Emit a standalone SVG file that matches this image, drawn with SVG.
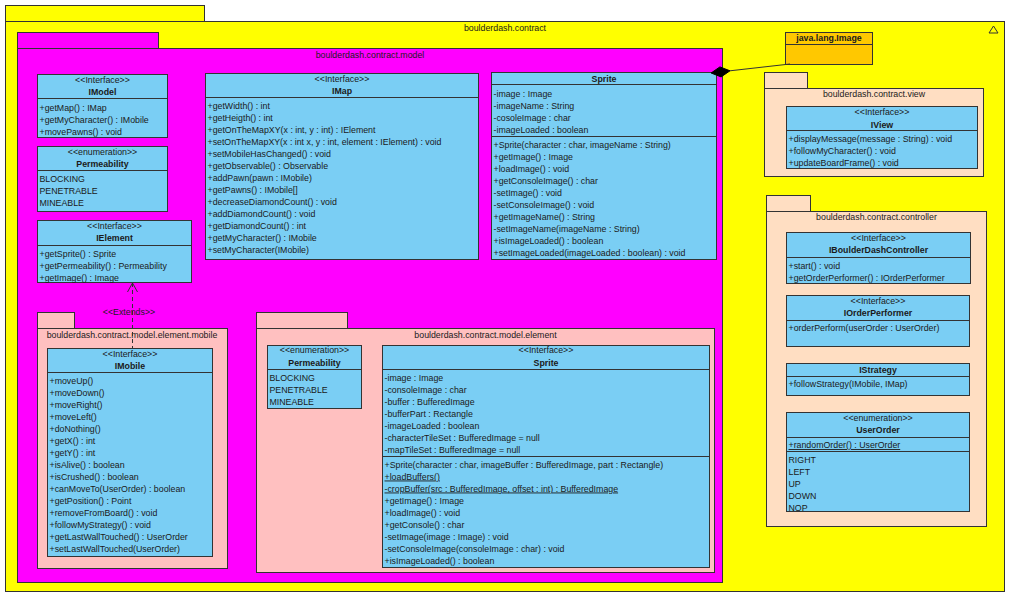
<svg xmlns="http://www.w3.org/2000/svg" width="1016" height="599" viewBox="0 0 1016 599">
<style>
text { font-family: "Liberation Sans", Arial, sans-serif; font-size: 8.8px; fill: #1a1a1a; }
.c { text-anchor: middle; }
.b { font-weight: bold; }
.u { text-decoration: underline; }
.cls { fill: #7ACEF4; stroke: #333333; stroke-width: 1; }
.ext { fill: #FFC800; stroke: #333333; stroke-width: 1; }
.ln { stroke: #333333; stroke-width: 1; fill: none; }
.py { fill: #FFFF00; stroke: #333333; stroke-width: 1; }
.pm { fill: #FF00FF; stroke: #333333; stroke-width: 1; }
.pp { fill: #FFC0C0; stroke: #333333; stroke-width: 1; }
.pc { fill: #FFDEC2; stroke: #333333; stroke-width: 1; }
</style>
<defs>
<clipPath id="clipUO"><rect x="786.5" y="451.5" width="183" height="59.5"/></clipPath>
</defs>
<rect x="0" y="0" width="1016" height="599" fill="#FFFFFF"/>

<g id="pkg-contract">
<rect class="py" x="5.5" y="5.5" width="199" height="16"/>
<rect class="py" x="5.5" y="21.5" width="999" height="570"/>
<text class="c" x="505" y="30.5">boulderdash.contract</text>
<polygon class="ln" points="989,33 998,33 993.5,26"/>
</g>

<g id="pkg-model">
<rect class="pm" x="17.5" y="32.5" width="141" height="16"/>
<rect class="pm" x="17.5" y="48.5" width="705" height="534"/>
<text class="c" x="370" y="57.5">boulderdash.contract.model</text>
</g>

<g id="pkg-view">
<rect class="pc" x="764.5" y="72.5" width="43" height="16"/>
<rect class="pc" x="764.5" y="88.5" width="219" height="88"/>
<text class="c" x="874" y="97">boulderdash.contract.view</text>
</g>

<g id="pkg-controller">
<rect class="pc" x="766.5" y="195.5" width="44" height="16"/>
<rect class="pc" x="766.5" y="211.5" width="220" height="315"/>
<text class="c" x="876.5" y="220">boulderdash.contract.controller</text>
</g>

<g id="pkg-mobile">
<rect class="pp" x="37.5" y="312.5" width="37" height="16"/>
<rect class="pp" x="37.5" y="328.5" width="190" height="240"/>
<text class="c" x="132" y="337.5">boulderdash.contract.model.element.mobile</text>
</g>

<g id="pkg-element">
<rect class="pp" x="256.5" y="312.5" width="91" height="16"/>
<rect class="pp" x="256.5" y="328.5" width="458" height="244"/>
<text class="c" x="485.5" y="337.5">boulderdash.contract.model.element</text>
</g>

<g id="IModel">
<rect class="cls" x="37.5" y="74.5" width="130" height="63"/>
<line class="ln" x1="37.5" y1="98.5" x2="167.5" y2="98.5"/>
<text class="c" x="102.5" y="83">&lt;&lt;Interface&gt;&gt;</text>
<text class="c b" x="102.5" y="95">IModel</text>
<text x="39.5" y="110.5">+getMap() : IMap</text>
<text x="39.5" y="122.5">+getMyCharacter() : IMobile</text>
<text x="39.5" y="134.5">+movePawns() : void</text>
</g>

<g id="Permeability-model">
<rect class="cls" x="37.5" y="146.5" width="130" height="65"/>
<line class="ln" x1="37.5" y1="170.5" x2="167.5" y2="170.5"/>
<text class="c" x="102.5" y="155">&lt;&lt;enumeration&gt;&gt;</text>
<text class="c b" x="102.5" y="167">Permeability</text>
<text x="39.5" y="182">BLOCKING</text>
<text x="39.5" y="194">PENETRABLE</text>
<text x="39.5" y="206">MINEABLE</text>
</g>

<g id="IElement">
<rect class="cls" x="37.5" y="220.5" width="154" height="62"/>
<line class="ln" x1="37.5" y1="245.5" x2="191.5" y2="245.5"/>
<text class="c" x="114.5" y="229">&lt;&lt;Interface&gt;&gt;</text>
<text class="c b" x="114.5" y="241">IElement</text>
<text x="39.5" y="256.5">+getSprite() : Sprite</text>
<text x="39.5" y="268.5">+getPermeability() : Permeability</text>
<text x="39.5" y="280.5">+getImage() : Image</text>
</g>

<g id="IMap">
<rect class="cls" x="205.5" y="73.5" width="273" height="186"/>
<line class="ln" x1="205.5" y1="97.5" x2="478.5" y2="97.5"/>
<text class="c" x="342" y="82">&lt;&lt;Interface&gt;&gt;</text>
<text class="c b" x="342" y="94">IMap</text>
<text x="207.5" y="109">+getWidth() : int</text>
<text x="207.5" y="121">+getHeigth() : int</text>
<text x="207.5" y="133">+getOnTheMapXY(x : int, y : int) : IElement</text>
<text x="207.5" y="145">+setOnTheMapXY(x : int x, y : int, element : IElement) : void</text>
<text x="207.5" y="157">+setMobileHasChanged() : void</text>
<text x="207.5" y="169">+getObservable() : Observable</text>
<text x="207.5" y="181">+addPawn(pawn : IMobile)</text>
<text x="207.5" y="193">+getPawns() : IMobile[]</text>
<text x="207.5" y="205">+decreaseDiamondCount() : void</text>
<text x="207.5" y="217">+addDiamondCount() : void</text>
<text x="207.5" y="229">+getDiamondCount() : int</text>
<text x="207.5" y="241">+getMyCharacter() : IMobile</text>
<text x="207.5" y="253">+setMyCharacter(IMobile)</text>
</g>

<g id="Sprite-model">
<rect class="cls" x="491.5" y="72.5" width="225" height="187"/>
<line class="ln" x1="491.5" y1="84.5" x2="716.5" y2="84.5"/>
<line class="ln" x1="491.5" y1="136.5" x2="716.5" y2="136.5"/>
<text class="c b" x="604" y="81.5">Sprite</text>
<text x="493.5" y="96.5">-image : Image</text>
<text x="493.5" y="108.5">-imageName : String</text>
<text x="493.5" y="120.5">-cosoleImage : char</text>
<text x="493.5" y="132.5">-imageLoaded : boolean</text>
<text x="493.5" y="147.5">+Sprite(character : char, imageName : String)</text>
<text x="493.5" y="159.5">+getImage() : Image</text>
<text x="493.5" y="171.5">+loadImage() : void</text>
<text x="493.5" y="183.5">+getConsoleImage() : char</text>
<text x="493.5" y="195.5">-setImage() : void</text>
<text x="493.5" y="207.5">-setConsoleImage() : void</text>
<text x="493.5" y="219.5">+getImageName() : String</text>
<text x="493.5" y="231.5">-setImageName(imageName : String)</text>
<text x="493.5" y="243.5">+isImageLoaded() : boolean</text>
<text x="493.5" y="255.5">+setImageLoaded(imageLoaded : boolean) : void</text>
</g>

<g id="java-lang-Image">
<rect class="ext" x="785.5" y="32.5" width="87" height="32"/>
<line class="ln" x1="785.5" y1="44.5" x2="872.5" y2="44.5"/>
<text class="c b" x="829" y="41">java.lang.Image</text>
</g>

<g id="IView">
<rect class="cls" x="786.5" y="106.5" width="191" height="62"/>
<line class="ln" x1="786.5" y1="130.5" x2="977.5" y2="130.5"/>
<text class="c" x="882" y="115">&lt;&lt;Interface&gt;&gt;</text>
<text class="c b" x="882" y="127.5">IView</text>
<text x="788.5" y="142">+displayMessage(message : String) : void</text>
<text x="788.5" y="154">+followMyCharacter() : void</text>
<text x="788.5" y="166">+updateBoardFrame() : void</text>
</g>

<g id="IBoulderDashController">
<rect class="cls" x="786.5" y="232.5" width="184" height="51"/>
<line class="ln" x1="786.5" y1="257.5" x2="970.5" y2="257.5"/>
<text class="c" x="878.5" y="241">&lt;&lt;Interface&gt;&gt;</text>
<text class="c b" x="878.5" y="253">IBoulderDashController</text>
<text x="788.5" y="268.5">+start() : void</text>
<text x="788.5" y="280.5">+getOrderPerformer() : IOrderPerformer</text>
</g>

<g id="IOrderPerformer">
<rect class="cls" x="786.5" y="295.5" width="183" height="51"/>
<line class="ln" x1="786.5" y1="320.5" x2="969.5" y2="320.5"/>
<text class="c" x="878" y="304">&lt;&lt;Interface&gt;&gt;</text>
<text class="c b" x="878" y="316">IOrderPerformer</text>
<text x="788.5" y="331">+orderPerform(userOrder : UserOrder)</text>
</g>

<g id="IStrategy">
<rect class="cls" x="786.5" y="363.5" width="183" height="32"/>
<line class="ln" x1="786.5" y1="376.5" x2="969.5" y2="376.5"/>
<text class="c b" x="878" y="372.5">IStrategy</text>
<text x="788.5" y="387">+followStrategy(IMobile, IMap)</text>
</g>

<g id="UserOrder">
<rect class="cls" x="786.5" y="412.5" width="183" height="99"/>
<line class="ln" x1="786.5" y1="437.5" x2="969.5" y2="437.5"/>
<line class="ln" x1="786.5" y1="451.5" x2="969.5" y2="451.5"/>
<text class="c" x="878" y="421">&lt;&lt;enumeration&gt;&gt;</text>
<text class="c b" x="878" y="433">UserOrder</text>
<text class="u" x="788.5" y="448">+randomOrder() : UserOrder</text>
<g clip-path="url(#clipUO)">
<text x="788.5" y="462.5">RIGHT</text>
<text x="788.5" y="474.5">LEFT</text>
<text x="788.5" y="486.5">UP</text>
<text x="788.5" y="498.5">DOWN</text>
<text x="788.5" y="510.5">NOP</text>
</g>
</g>

<g id="IMobile">
<rect class="cls" x="47.5" y="348.5" width="165" height="208"/>
<line class="ln" x1="47.5" y1="372.5" x2="212.5" y2="372.5"/>
<text class="c" x="130" y="357">&lt;&lt;Interface&gt;&gt;</text>
<text class="c b" x="130" y="369">IMobile</text>
<text x="49.5" y="383.5">+moveUp()</text>
<text x="49.5" y="395.5">+moveDown()</text>
<text x="49.5" y="407.5">+moveRight()</text>
<text x="49.5" y="419.5">+moveLeft()</text>
<text x="49.5" y="431.5">+doNothing()</text>
<text x="49.5" y="443.5">+getX() : int</text>
<text x="49.5" y="455.5">+getY() : int</text>
<text x="49.5" y="467.5">+isAlive() : boolean</text>
<text x="49.5" y="479.5">+isCrushed() : boolean</text>
<text x="49.5" y="491.5">+canMoveTo(UserOrder) : boolean</text>
<text x="49.5" y="503.5">+getPosition() : Point</text>
<text x="49.5" y="515.5">+removeFromBoard() : void</text>
<text x="49.5" y="527.5">+followMyStrategy() : void</text>
<text x="49.5" y="539.5">+getLastWallTouched() : UserOrder</text>
<text x="49.5" y="551.5">+setLastWallTouched(UserOrder)</text>
</g>

<g id="Permeability-element">
<rect class="cls" x="267.5" y="345.5" width="94" height="63"/>
<line class="ln" x1="267.5" y1="369.5" x2="361.5" y2="369.5"/>
<text class="c" x="314.5" y="352.5">&lt;&lt;enumeration&gt;&gt;</text>
<text class="c b" x="314.5" y="365.5">Permeability</text>
<text x="269.5" y="380.5">BLOCKING</text>
<text x="269.5" y="392.5">PENETRABLE</text>
<text x="269.5" y="404.5">MINEABLE</text>
</g>

<g id="Sprite-element">
<rect class="cls" x="382.5" y="345.5" width="327" height="222"/>
<line class="ln" x1="382.5" y1="369.5" x2="709.5" y2="369.5"/>
<line class="ln" x1="382.5" y1="456.5" x2="709.5" y2="456.5"/>
<text class="c" x="546" y="352.5">&lt;&lt;Interface&gt;&gt;</text>
<text class="c b" x="546" y="365.5">Sprite</text>
<text x="384.5" y="380.5">-image : Image</text>
<text x="384.5" y="392.5">-consoleImage : char</text>
<text x="384.5" y="404.5">-buffer : BufferedImage</text>
<text x="384.5" y="416.5">-bufferPart : Rectangle</text>
<text x="384.5" y="428.5">-imageLoaded : boolean</text>
<text x="384.5" y="440.5">-characterTileSet : BufferedImage = null</text>
<text x="384.5" y="452.5">-mapTileSet : BufferedImage = null</text>
<text x="384.5" y="467.5">+Sprite(character : char, imageBuffer : BufferedImage, part : Rectangle)</text>
<text class="u" x="384.5" y="479.5">+loadBuffers()</text>
<text class="u" x="384.5" y="491.5">-cropBuffer(src : BufferedImage, offset : int) : BufferedImage</text>
<text x="384.5" y="503.5">+getImage() : Image</text>
<text x="384.5" y="515.5">+loadImage() : void</text>
<text x="384.5" y="527.5">+getConsole() : char</text>
<text x="384.5" y="539.5">-setImage(image : Image) : void</text>
<text x="384.5" y="551.5">-setConsoleImage(consoleImage : char) : void</text>
<text x="384.5" y="563.5">+isImageLoaded() : boolean</text>
</g>

<g id="connectors">
<line class="ln" x1="132.5" y1="283" x2="132.5" y2="348" stroke-dasharray="4,3"/>
<polyline class="ln" points="127.5,292 132.5,283 137.5,292"/>
<text class="c" x="129" y="315">&lt;&lt;Extends&gt;&gt;</text>
<line class="ln" x1="730" y1="70.8" x2="790" y2="64"/>
<polygon points="711.1,73 719.9,66.9 730,70.8 721.1,76.9" fill="#000000" stroke="#000000" stroke-width="1"/>
</g>
</svg>
